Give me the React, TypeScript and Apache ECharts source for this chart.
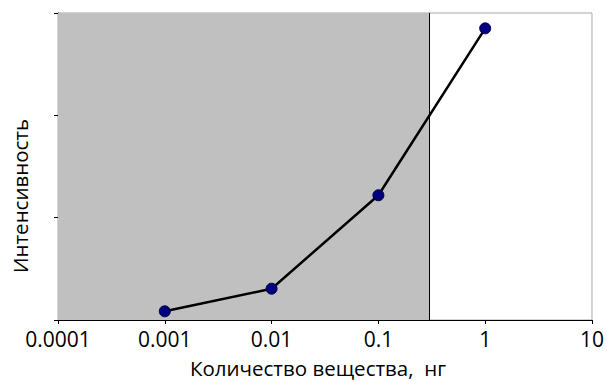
import React, { useEffect, useRef } from "react";
import * as echarts from "echarts";

const amounts = [0.001, 0.01, 0.1, 1];
const intensity = [0.085, 0.306, 1.219, 2.85];
const xTickLabels = ["0.0001", "0.001", "0.01", "0.1", "1", "10"];
const shadedRange = [0.0001, 0.3];
const xTitle = "Количество вещества,  нг";
const yTitle = "Интенсивность";

export default function App() {
  const ref = useRef<HTMLDivElement>(null);
  useEffect(() => {
    if (!ref.current) return;
    const chart = echarts.init(ref.current, null, { renderer: "svg" });
    const font = "'Open Sans', 'Noto Sans', sans-serif";
    chart.setOption({
      animation: false,
      backgroundColor: "#ffffff",
      textStyle: { fontFamily: font },
      grid: {
        left: 58,
        right: 14,
        top: 13,
        bottom: 63,
        show: true,
        borderColor: "#a6a6a6",
        borderWidth: 1,
        backgroundColor: "#ffffff",
      },
      xAxis: {
        type: "log",
        logBase: 10,
        min: 0.0001,
        max: 10,
        axisLine: { show: true, lineStyle: { color: "#000", width: 1 } },
        axisTick: { show: true, inside: false, length: 4, lineStyle: { color: "#000" } },
        splitLine: { show: false },
        minorTick: { show: false },
        axisLabel: {
          color: "#000",
          fontSize: 21,
          fontFamily: font,
          margin: 8,
          formatter: (_v: number, i: number) => xTickLabels[i] ?? "",
        },
      },
      yAxis: {
        type: "value",
        min: 0,
        max: 3,
        interval: 1,
        axisLine: { show: true, lineStyle: { color: "#000", width: 1 } },
        axisTick: { show: true, inside: false, length: 4, lineStyle: { color: "#000" } },
        splitLine: { show: false },
        axisLabel: { show: false },
      },
      graphic: [
        {
          type: "text",
          x: 20,
          y: 196,
          rotation: Math.PI / 2,
          style: {
            text: yTitle,
            fontSize: 20.5,
            fontFamily: font,
            fill: "#000",
            align: "center",
            verticalAlign: "middle",
          },
        },
        {
          type: "text",
          x: 318,
          y: 368,
          style: {
            text: xTitle,
            fontSize: 20.5,
            fontFamily: font,
            fill: "#000",
            align: "center",
            verticalAlign: "middle",
          },
        },
      ],
      series: [
        {
          type: "line",
          data: amounts.map((a, i) => [a, intensity[i]]),
          symbol: "circle",
          symbolSize: 11,
          itemStyle: { color: "#000080", borderColor: "#000040", borderWidth: 1 },
          lineStyle: { color: "#000", width: 2.5 },
          z: 5,
          markArea: {
            silent: true,
            itemStyle: { color: "#c0c0c0" },
            data: [[{ xAxis: shadedRange[0], yAxis: 0 }, { xAxis: shadedRange[1], yAxis: 3 }]],
          },
          markLine: {
            silent: true,
            symbol: "none",
            label: { show: false },
            lineStyle: { color: "#000", width: 1, type: "solid" },
            data: [{ xAxis: shadedRange[1] }],
          },
        },
      ],
    });
    return () => chart.dispose();
  }, []);
  return (
    <div
      ref={ref}
      style={{ position: "fixed", left: 0, top: 0, width: 607, height: 383 }}
    />
  );
}
